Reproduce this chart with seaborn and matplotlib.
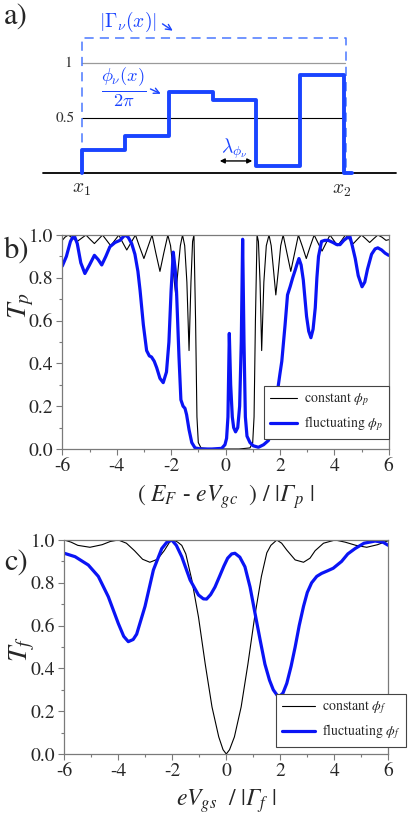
import numpy as np
import pandas as pd
import seaborn as sns
import matplotlib.pyplot as plt
from matplotlib.ticker import MultipleLocator

# panel a: schematic step profile (x in units of one step, x1 = 0, x2 = 6)
step_x = [0, 0, 1, 2, 3, 4, 5, 6, 6.2]
step_phase = [0, 0.21, 0.34, 0.74, 0.66, 0.06, 0.89, 0, 0]
gamma_level = 1.23

# panel b: T_p vs (E_F - eV_gc)/|Gamma_p|
b_const_x = [-6.0, -5.90, -5.78, -5.62, -5.45, -5.29, -5.13, -4.98, -4.82, -4.67, -4.52, -4.37, -4.22, -4.07,
             -3.92, -3.78, -3.63, -3.47, -3.31, -3.16, -3.00, -2.85, -2.70, -2.56, -2.41, -2.27, -2.12, -2.02,
             -1.92, -1.83, -1.75, -1.66, -1.58, -1.50, -1.42, -1.34, -1.27, -1.21, -1.16, -1.10, -1.05, -1.0,
             -0.9, -0.5, 0.0, 0.5, 0.9, 1.0, 1.05, 1.10, 1.16, 1.21, 1.27, 1.33, 1.41, 1.50, 1.60, 1.68, 1.77,
             1.85, 1.94, 2.03, 2.12, 2.26, 2.40, 2.54, 2.68, 2.83, 2.97, 3.11, 3.26, 3.40, 3.55, 3.70, 3.84,
             3.98, 4.12, 4.27, 4.41, 4.55, 4.70, 4.85, 5.00, 5.15, 5.30, 5.45, 5.60, 5.75, 5.90, 6.0]
b_const_y = [0.975, 0.99, 1.0, 0.985, 0.97, 0.985, 1.0, 0.98, 0.96, 0.98, 1.0, 0.975, 0.95, 0.975,
             1.0, 0.965, 0.93, 0.965, 1.0, 0.945, 0.89, 0.945, 1.0, 0.915, 0.83, 0.915, 1.0, 0.95,
             0.83, 0.72, 0.83, 0.95, 1.0, 0.95, 0.78, 0.46, 0.78, 0.97, 1.0, 0.6, 0.15, 0.03,
             0.005, 0.0, 0.0, 0.0, 0.005, 0.03, 0.15, 0.6, 1.0, 0.97, 0.78, 0.46, 0.78, 0.95, 1.0, 0.95, 0.83,
             0.72, 0.83, 0.95, 1.0, 0.915, 0.83, 0.915, 1.0, 0.945, 0.89, 0.945, 1.0, 0.963, 0.925, 0.963, 1.0,
             0.975, 0.95, 0.975, 1.0, 0.98, 0.96, 0.98, 1.0, 0.983, 0.965, 0.983, 1.0, 0.99, 0.975, 0.978]

b_fluct_x = [-6.0, -5.85, -5.70, -5.57, -5.45, -5.32, -5.17, -5.00, -4.82, -4.68, -4.55, -4.40, -4.25, -4.06,
             -3.88, -3.70, -3.58, -3.45, -3.33, -3.22, -3.14, -3.02, -2.90, -2.80, -2.72, -2.62, -2.53, -2.41,
             -2.29, -2.17, -2.08, -2.00, -1.92, -1.85, -1.80, -1.71, -1.64, -1.56, -1.49, -1.43, -1.34, -1.24,
             -1.12, -0.9, -0.5, -0.14, -0.02, 0.04, 0.09, 0.14, 0.19, 0.25, 0.30, 0.37, 0.45, 0.52, 0.58, 0.63,
             0.68, 0.73, 0.79, 0.90, 1.02, 1.21, 1.40, 1.58, 1.70, 1.80, 1.90, 2.00, 2.07, 2.19, 2.28, 2.38,
             2.47, 2.56, 2.62, 2.70, 2.78, 2.86, 2.98, 3.06, 3.14, 3.22, 3.30, 3.36, 3.42, 3.53, 3.65, 3.78,
             3.95, 4.09, 4.21, 4.35, 4.50, 4.57, 4.66, 4.77, 4.88, 5.02, 5.12, 5.22, 5.37, 5.50, 5.60, 5.74,
             5.87, 6.0]
b_fluct_y = [0.855, 0.90, 0.97, 1.0, 0.96, 0.87, 0.82, 0.86, 0.905, 0.885, 0.86, 0.90, 0.945, 0.965,
             0.975, 1.0, 0.99, 0.96, 0.91, 0.83, 0.74, 0.58, 0.46, 0.435, 0.43, 0.41, 0.38, 0.33,
             0.31, 0.36, 0.50, 0.74, 0.92, 0.84, 0.735, 0.43, 0.23, 0.20, 0.19, 0.16, 0.09, 0.03,
             0.005, 0.0, 0.0, 0.003, 0.02, 0.05, 0.15, 0.54, 0.30, 0.15, 0.10, 0.08, 0.10, 0.20, 0.50, 0.98,
             0.50, 0.15, 0.06, 0.03, 0.015, 0.008, 0.02, 0.04, 0.09, 0.17, 0.26, 0.35, 0.41, 0.58, 0.72, 0.76,
             0.80, 0.835, 0.86, 0.89, 0.86, 0.79, 0.62, 0.55, 0.52, 0.56, 0.66, 0.80, 0.90, 0.97, 0.975, 0.975,
             0.965, 0.955, 0.955, 0.975, 0.99, 0.995, 0.95, 0.89, 0.81, 0.758, 0.78, 0.84, 0.91, 0.935, 0.94, 0.93,
             0.915, 0.905]

# panel c: T_f vs eV_gs/|Gamma_f|
c_const_x = [-6.0, -5.75, -5.5, -5.05, -4.6, -4.3, -4.0, -3.7, -3.4, -3.1, -2.83, -2.55, -2.3, -2.1, -1.96,
             -1.8, -1.65, -1.50, -1.28, -1.03, -0.78, -0.53, -0.28, -0.12, 0.0, 0.12, 0.30, 0.55, 0.80, 1.05,
             1.30, 1.50, 1.65, 1.87, 2.05, 2.24, 2.55, 2.86, 3.1, 3.29, 3.6, 4.03, 4.4, 4.8, 5.2, 5.6, 6.0]
c_const_y = [1.0, 0.99, 0.975, 0.966, 0.978, 0.993, 1.0, 0.985, 0.95, 0.91, 0.896, 0.91, 0.95, 0.99, 1.0,
             0.99, 0.975, 0.935, 0.815, 0.64, 0.42, 0.22, 0.08, 0.02, 0.0, 0.02, 0.08, 0.22, 0.42, 0.64,
             0.83, 0.94, 0.975, 1.0, 0.985, 0.953, 0.907, 0.896, 0.915, 0.95, 0.985, 1.0, 0.99, 0.975, 0.966,
             0.978, 0.997]

c_fluct_x = [-6.0, -5.6, -5.11, -4.74, -4.37, -4.0, -3.80, -3.63, -3.45, -3.32, -3.01, -2.70, -2.39, -2.2,
             -2.02, -1.85, -1.65, -1.34, -1.03, -0.85, -0.73, -0.58, -0.42, -0.25, -0.09, 0.05, 0.20, 0.32,
             0.50, 0.69, 0.88, 1.06, 1.25, 1.43, 1.60, 1.74, 1.88, 1.98, 2.10, 2.24, 2.40, 2.55, 2.70, 2.86,
             3.0, 3.16, 3.35, 3.53, 3.75, 3.96, 4.27, 4.5, 4.77, 5.1, 5.51, 5.8, 6.0]
c_fluct_y = [0.938, 0.922, 0.883, 0.83, 0.735, 0.61, 0.55, 0.525, 0.535, 0.56, 0.69, 0.86, 0.96, 0.99,
             1.0, 0.975, 0.922, 0.813, 0.743, 0.725, 0.724, 0.745, 0.78, 0.83, 0.878, 0.915, 0.935, 0.938,
             0.92, 0.875, 0.78, 0.66, 0.535, 0.42, 0.345, 0.30, 0.275, 0.27, 0.285, 0.33, 0.41, 0.50, 0.60, 0.69,
             0.755, 0.80, 0.83, 0.844, 0.856, 0.868, 0.90, 0.935, 0.96, 0.985, 0.995, 0.99, 0.975]

sns.set_style("ticks")
plt.rcParams['font.family'] = ['STIXGeneral', 'Liberation Serif', 'DejaVu Serif']
plt.rcParams['mathtext.fontset'] = 'custom'
plt.rcParams['mathtext.rm'] = 'STIXGeneral'
plt.rcParams['mathtext.it'] = 'STIXGeneral:italic'
plt.rcParams['mathtext.bf'] = 'STIXGeneral:bold'
# sf slot used for the italic capital Gamma
plt.rcParams['mathtext.sf'] = 'STIXGeneral:italic'
plt.rcParams['axes.unicode_minus'] = False

blue_a = '#1a44ff'
dash_a = '#4a78ff'
blue = '#0a14f5'
gray = '#7a7a7a'

fig = plt.figure(figsize=(4.08, 8.21), dpi=100)

# ---------------- a) ----------------
ax_a = fig.add_axes([0, 1 - 200 / 821, 1, 200 / 821])
ax_a.set_xlim(-1.865, 7.47)
ax_a.set_ylim(-0.245, 1.573)
ax_a.axis('off')

ax_a.plot([-0.88, 7.2], [0, 0], color='black', lw=1.3)
ax_a.plot([0, 6.03], [1, 1], color='#9a9a9a', lw=0.9)
ax_a.plot([0, 6.0], [0.5, 0.5], color='black', lw=0.8)
ax_a.plot([0, 0, 6.05, 6.05], [0, gamma_level, gamma_level, 0], color=dash_a, lw=1.1,
          dashes=(6, 4))
sns.lineplot(x=step_x, y=step_phase, ax=ax_a, estimator=None, sort=False, color=blue_a,
             lw=2.8, drawstyle='steps-post')

ax_a.text(-0.31, 1.0, '1', ha='center', va='center', fontsize=11, color='#333333')
ax_a.text(-0.38, 0.5, '0.5', ha='center', va='center', fontsize=11, color='#333333')
ax_a.text(0.01, -0.15, r'$x_1$', ha='center', va='center', fontsize=14, math_fontfamily='cm')
ax_a.text(5.96, -0.16, r'$x_2$', ha='center', va='center', fontsize=14, math_fontfamily='cm')
ax_a.text(1.06, 1.37, r'$|\Gamma_\nu(x)|$', ha='center', va='center', fontsize=14,
          color=blue_a, math_fontfamily='cm')
ax_a.annotate('', xy=(2.14, 1.28), xytext=(1.80, 1.37),
              arrowprops=dict(arrowstyle='->', color=blue_a, lw=1.0))
ax_a.text(0.97, 0.78, r'$\frac{\phi_\nu(x)}{2\pi}$', ha='center', va='center', fontsize=19,
          color=blue_a, math_fontfamily='cm')
ax_a.annotate('', xy=(1.87, 0.71), xytext=(1.52, 0.775),
              arrowprops=dict(arrowstyle='->', color=blue_a, lw=1.0))
ax_a.text(3.49, 0.22, r'$\lambda_{\phi_\nu}$', ha='center', va='center', fontsize=14,
          color=blue_a, math_fontfamily='cm')
ax_a.annotate('', xy=(3.10, 0.11), xytext=(3.97, 0.11),
              arrowprops=dict(arrowstyle='<|-|>', color='black', lw=1.0, mutation_scale=7))
fig.text(4 / 408, 1 - 17 / 821, 'a)', fontsize=22, va='center', ha='left')


def style_axes(ax):
    ax.set_xlim(-6, 6)
    ax.set_ylim(0, 1)
    ax.xaxis.set_major_locator(MultipleLocator(2))
    ax.xaxis.set_minor_locator(MultipleLocator(1))
    ax.yaxis.set_major_locator(MultipleLocator(0.2))
    ax.yaxis.set_minor_locator(MultipleLocator(0.1))
    ax.yaxis.set_major_formatter(plt.FormatStrFormatter('%.1f'))
    ax.tick_params(which='major', direction='out', length=4.5, width=0.8, color=gray,
                   labelsize=14, pad=2)
    ax.tick_params(which='minor', direction='out', length=2.5, width=0.8, color=gray)
    for s in ax.spines.values():
        s.set_color(gray)
        s.set_linewidth(0.9)
        s.set_visible(True)


# ---------------- b) ----------------
ax_b = fig.add_axes([62.3 / 408, 1 - 449 / 821, 326.4 / 408, 214 / 821])
sns.lineplot(x=b_const_x, y=b_const_y, ax=ax_b, estimator=None, sort=False, color='black',
             lw=0.8, label=r'constant $\phi_p$')
sns.lineplot(x=b_fluct_x, y=b_fluct_y, ax=ax_b, estimator=None, sort=False, color=blue,
             lw=2.3, label=r'fluctuating $\phi_p$')
style_axes(ax_b)
ax_b.set_xlabel(r'$(\ E_F$ - $eV_{gc}\ \ )\ /\ |\mathsf{\Gamma}_p\ |$', fontsize=17, labelpad=5)
ax_b.set_ylabel(r'$T_p$', fontsize=20, va='center')
ax_b.yaxis.set_label_coords(-0.125, 0.67)
leg = ax_b.legend(loc='lower right', bbox_to_anchor=(1.0, 0.047), borderaxespad=0, fontsize=10,
                  frameon=True, fancybox=False, framealpha=1, edgecolor='#444444',
                  handlelength=2.0, labelspacing=0.45, borderpad=0.4, handletextpad=0.5)
leg.get_frame().set_linewidth(0.8)
fig.text(4 / 408, 1 - 251 / 821, 'b)', fontsize=22, va='center', ha='left')

# ---------------- c) ----------------
ax_c = fig.add_axes([64.3 / 408, 1 - 754 / 821, 324 / 408, 214 / 821])
sns.lineplot(x=c_const_x, y=c_const_y, ax=ax_c, estimator=None, sort=False, color='black',
             lw=0.8, label=r'constant $\phi_f$')
sns.lineplot(x=c_fluct_x, y=c_fluct_y, ax=ax_c, estimator=None, sort=False, color=blue,
             lw=2.3, label=r'fluctuating $\phi_f$')
style_axes(ax_c)
ax_c.set_xlabel(r'$eV_{gs}\ \ /\ |\mathsf{\Gamma}_f\ |$', fontsize=17, labelpad=5)
ax_c.set_ylabel(r'$T_f$', fontsize=20, va='center')
ax_c.yaxis.set_label_coords(-0.13, 0.49)
leg = ax_c.legend(loc='lower right', bbox_to_anchor=(1.055, 0.033), borderaxespad=0, fontsize=10,
                  frameon=True, fancybox=False, framealpha=1, edgecolor='#444444',
                  handlelength=2.4, labelspacing=0.45, borderpad=0.4, handletextpad=0.5)
leg.get_frame().set_linewidth(0.8)
fig.text(4 / 408, 1 - 563 / 821, 'c)', fontsize=22, va='center', ha='left')

fig.savefig('out.png', dpi=100)
